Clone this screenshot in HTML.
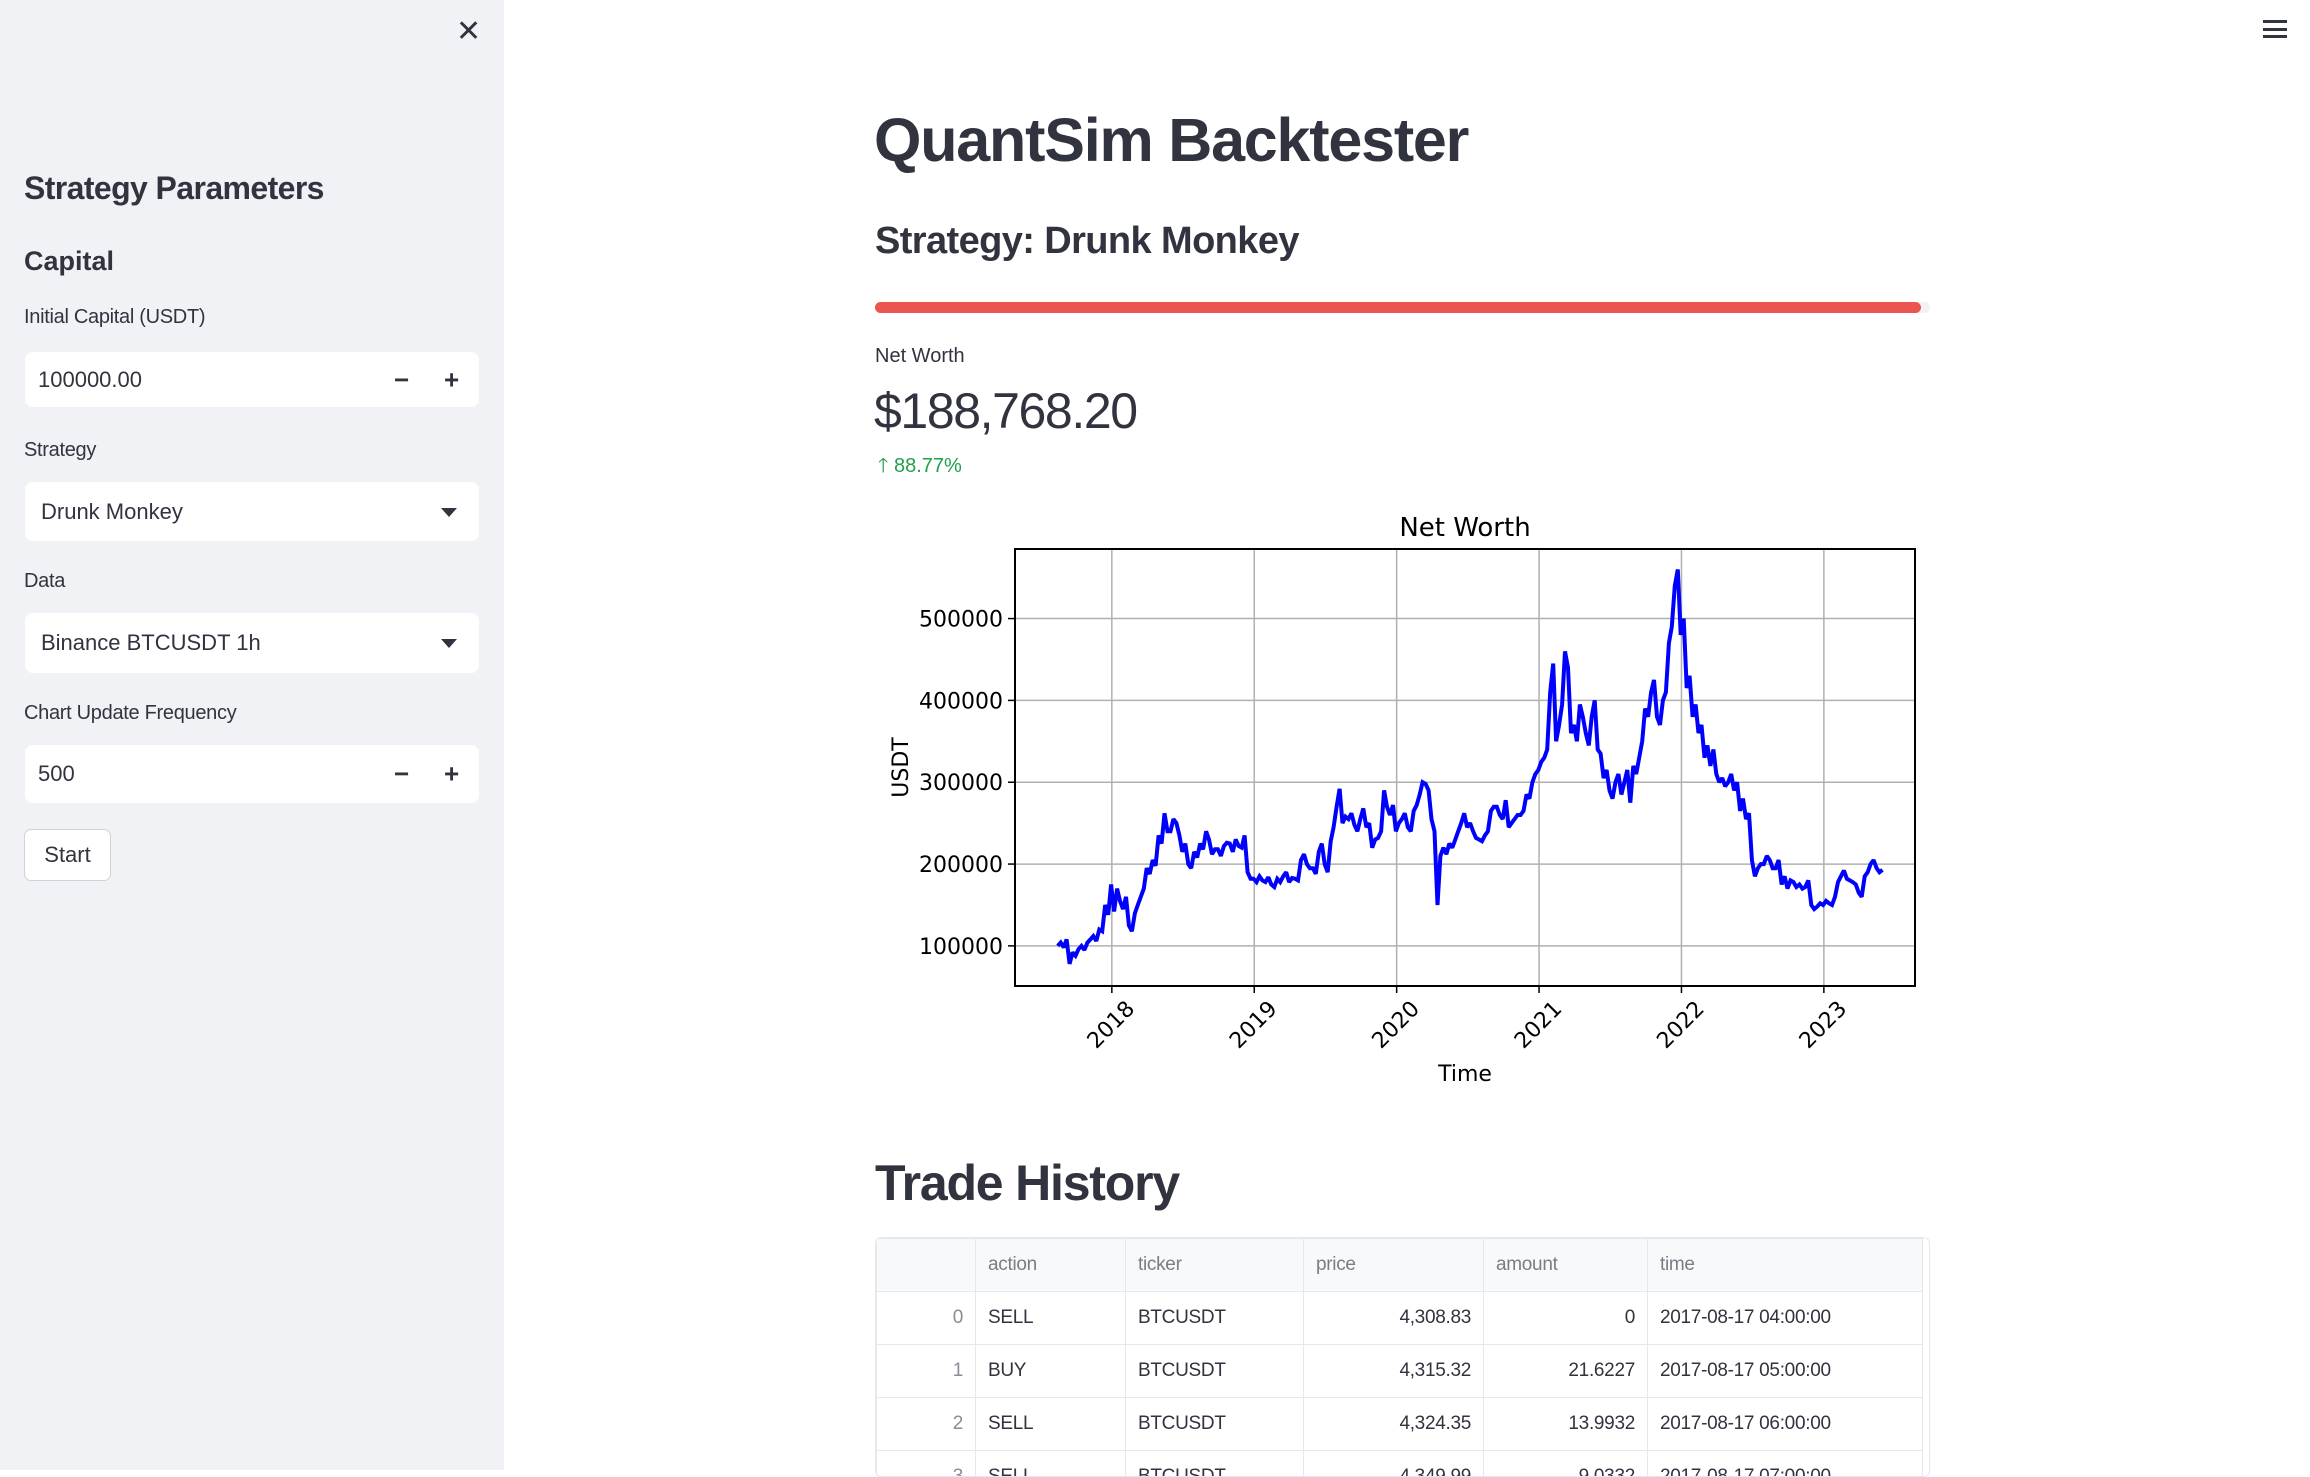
<!DOCTYPE html>
<html><head><meta charset="utf-8"><style>
*{box-sizing:border-box;margin:0;padding:0}
body{width:2310px;height:1470px;overflow:hidden;background:#fff;font-family:"Liberation Sans",sans-serif;color:#31333f;position:relative}
.a{position:absolute;white-space:nowrap}
#side{position:absolute;left:0;top:0;width:504px;height:1470px;background:#f0f2f6}
.lbl{font-size:20px;letter-spacing:-0.3px}
.box{position:absolute;left:25px;width:454px;background:#fff;border-radius:8px}
.box span{position:absolute;top:50%;transform:translateY(-50%);font-size:22px}
.arrow{position:absolute;right:22px;top:50%;margin-top:-4px;width:0;height:0;border-left:8px solid transparent;border-right:8px solid transparent;border-top:9px solid #31333f}
table{border-collapse:collapse;font-size:19px;letter-spacing:-0.3px}
td,th{border:1px solid #e6e8ee;height:53px;padding:0 12px;font-weight:normal;text-align:left}
th{color:#7a7c86;background:#f8f9fb}
td.n{text-align:right}
td.i{text-align:right;color:#8a8c96}
</style></head><body>
<div id="side">
  <div class="a" style="left:456px;top:14px;font-size:30px;color:#31333f">✕</div>
  <div class="a" style="left:24px;top:170px;font-size:32px;font-weight:bold;letter-spacing:-0.6px">Strategy Parameters</div>
  <div class="a" style="left:24px;top:246px;font-size:27px;font-weight:bold">Capital</div>
  <div class="a lbl" style="left:24px;top:306px">Initial Capital (USDT)</div>
  <div class="box" style="top:352px;height:55px"><span style="left:13px">100000.00</span><span style="left:369px;font-size:26px;font-weight:bold">−</span><span style="left:419px;font-size:26px;font-weight:bold">+</span></div>
  <div class="a lbl" style="left:24px;top:439px">Strategy</div>
  <div class="box" style="top:482px;height:59px"><span style="left:16px">Drunk Monkey</span><div class="arrow"></div></div>
  <div class="a lbl" style="left:24px;top:570px">Data</div>
  <div class="box" style="top:613px;height:60px"><span style="left:16px">Binance BTCUSDT 1h</span><div class="arrow"></div></div>
  <div class="a lbl" style="left:24px;top:702px">Chart Update Frequency</div>
  <div class="box" style="top:745px;height:58px"><span style="left:13px">500</span><span style="left:369px;font-size:26px;font-weight:bold">−</span><span style="left:419px;font-size:26px;font-weight:bold">+</span></div>
  <div class="a" style="left:24px;top:829px;width:87px;height:52px;border:1px solid #d0d2d8;border-radius:7px;background:#fff;font-size:22px;line-height:50px;text-align:center">Start</div>
</div>
<div class="a" style="left:2263px;top:20px;width:24px;height:18px;border-top:3px solid #31333f;border-bottom:3px solid #31333f"><div style="margin-top:5px;height:3px;background:#31333f"></div></div>

<div class="a" style="left:874px;top:105px;font-size:61px;font-weight:bold;letter-spacing:-1.2px">QuantSim Backtester</div>
<div class="a" style="left:875px;top:220px;font-size:38px;font-weight:bold;letter-spacing:-0.6px">Strategy: Drunk Monkey</div>
<div class="a" style="left:875px;top:302px;width:1055px;height:11px;border-radius:6px;background:#f0f2f6"></div>
<div class="a" style="left:875px;top:302px;width:1046px;height:11px;border-radius:6px;background:#ea5550"></div>
<div class="a" style="left:875px;top:345px;font-size:20px">Net Worth</div>
<div class="a" style="left:874px;top:382px;font-size:50px;letter-spacing:-1.4px">$188,768.20</div>
<div class="a" style="left:878px;top:451px;font-size:20px;color:#21a04b">🡑 88.77%</div>

<svg class="a" id="chart" style="left:0;top:0" width="2310" height="1470"></svg>

<div class="a" style="left:875px;top:1154px;font-size:50px;font-weight:bold;letter-spacing:-1.2px">Trade History</div>
<div class="a" style="left:875px;top:1237px;width:1055px;height:240px;border:1px solid #e6e8ee;border-radius:6px;overflow:hidden">
<table>
<colgroup><col style="width:99px"><col style="width:150px"><col style="width:178px"><col style="width:180px"><col style="width:164px"><col style="width:275px"></colgroup>
<tr><th></th><th>action</th><th>ticker</th><th>price</th><th>amount</th><th>time</th></tr>
<tr><td class="i">0</td><td>SELL</td><td>BTCUSDT</td><td class="n">4,308.83</td><td class="n">0</td><td>2017-08-17 04:00:00</td></tr>
<tr><td class="i">1</td><td>BUY</td><td>BTCUSDT</td><td class="n">4,315.32</td><td class="n">21.6227</td><td>2017-08-17 05:00:00</td></tr>
<tr><td class="i">2</td><td>SELL</td><td>BTCUSDT</td><td class="n">4,324.35</td><td class="n">13.9932</td><td>2017-08-17 06:00:00</td></tr>
<tr><td class="i">3</td><td>SELL</td><td>BTCUSDT</td><td class="n">4,349.99</td><td class="n">9.0332</td><td>2017-08-17 07:00:00</td></tr>
</table></div>

<script>
const startDate = 2017.62;
const stepYears = 1/48;
const values = [100,104,98,108,78,92,88,96,100,95,104,108,112,106,120,118,150,138,175,142,170,155,
145,160,125,118,140,150,160,170,195,188,205,198,235,225,262,240,240,255,250,235,215,225,200,195,215,208,225,218,240,230,212,218,218,210,222,226,225,215,230,222,220,235,190,182,182,178,185,180,
178,184,175,172,182,178,185,190,178,183,182,180,205,212,200,195,195,188,215,225,200,190,228,245,270,292,250,258,255,262,248,240,255,268,245,250,220,230,232,240,290,270,260,272,240,250,255,262,
245,240,265,272,285,300,298,290,255,240,150,210,220,212,225,220,230,240,250,262,245,250,240,232,230,228,235,240,265,270,270,260,255,278,245,250,255,260,260,265,285,280,300,310,315,325,330,340,
410,445,350,370,395,460,440,360,370,350,395,380,360,345,380,400,340,335,305,315,290,280,300,310,285,300,315,275,320,310,330,350,390,380,410,425,380,370,400,410,470,490,540,560,480,500,415,430,
380,395,360,370,330,345,320,340,310,300,305,295,300,310,290,300,265,280,255,262,205,185,195,200,200,210,205,195,195,205,175,185,170,180,178,172,175,170,172,180,150,145,148,152,150,155,152,150,
160,178,185,192,182,180,178,175,165,160,185,190,200,205,195,190,193];
const yTicks = [100000,200000,300000,400000,500000];
const xTicks = [2018,2019,2020,2021,2022,2023];
const NS='http://www.w3.org/2000/svg';
const svg=document.getElementById('chart');
const L=1015,R=1915,T=549,B=986;
const yMin=51000,yMax=585000, xMin=2017.32, xMax=2023.64;
const X=v=>L+(v-xMin)/(xMax-xMin)*(R-L);
const Y=v=>B-(v-yMin)/(yMax-yMin)*(B-T);
function mk(tag,attrs,parent){const e=document.createElementNS(NS,tag);for(const k in attrs)e.setAttribute(k,attrs[k]);(parent||svg).appendChild(e);return e;}
const ff='"DejaVu Sans",sans-serif';
yTicks.forEach(v=>{
  const g=mk('line',{x1:L,x2:R,y1:Y(v),y2:Y(v),stroke:'#b0b0b0','stroke-width':1.5});
  
  
  mk('line',{x1:L-7,x2:L,y1:Y(v),y2:Y(v),stroke:'#000','stroke-width':1.5});
  const t=mk('text',{x:L-12,y:Y(v)+8,'text-anchor':'end','font-size':22,'font-family':ff});
  t.textContent=v;
  
  
});
xTicks.forEach(v=>{
  const g=mk('line',{x1:X(v),x2:X(v),y1:T,y2:B,stroke:'#b0b0b0','stroke-width':1.5});
  
  
  mk('line',{x1:X(v),x2:X(v),y1:B,y2:B+7,stroke:'#000','stroke-width':1.5});
  const ax=X(v)+24, ay=B+24;
  const t=mk('text',{x:ax,y:ay,'text-anchor':'end','font-size':22,'font-family':ff,transform:`rotate(-45 ${ax} ${ay})`});
  t.textContent=v;
  
  
});
const pts=values.map((v,i)=>X(startDate+i*stepYears).toFixed(1)+','+Y(v*1000).toFixed(1)).join(' ');
const line=mk('polyline',{points:pts,fill:'none',stroke:'#0000ff','stroke-width':4,'stroke-linejoin':'miter','stroke-miterlimit':2});


const fr=mk('rect',{x:L,y:T,width:R-L,height:B-T,fill:'none',stroke:'#000','stroke-width':2});


const ti=mk('text',{x:(L+R)/2,y:536,'text-anchor':'middle','font-size':26,'font-family':ff});
ti.textContent='Net Worth';


const xl=mk('text',{x:(L+R)/2,y:1081,'text-anchor':'middle','font-size':22,'font-family':ff});
xl.textContent='Time';


const yl=mk('text',{x:908,y:(T+B)/2,'text-anchor':'middle','font-size':22,'font-family':ff,transform:`rotate(-90 908 ${(T+B)/2})`});
yl.textContent='USDT';


</script>
</body></html>
